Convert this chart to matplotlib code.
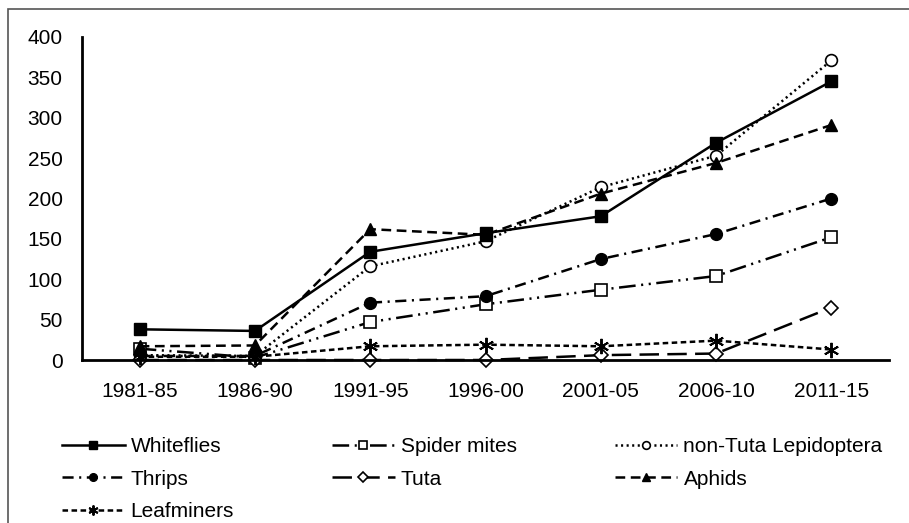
import matplotlib
matplotlib.use("Agg")
import matplotlib.pyplot as plt
from matplotlib.patches import Rectangle

plt.rcParams['font.family'] = ['Liberation Sans', 'DejaVu Sans']
plt.rcParams['lines.scale_dashes'] = False

periods = ["1981-85", "1986-90", "1991-95", "1996-00", "2001-05", "2006-10", "2011-15"]
whiteflies = [38, 36, 134, 157, 178, 269, 345]
spider_mites = [14, 3, 47, 69, 87, 104, 152]
non_tuta_lep = [6, 5, 116, 147, 214, 253, 371]
thrips = [5, 5, 71, 79, 125, 156, 200]
tuta = [0, 0, 0, 0, 6, 8, 65]
aphids = [17, 18, 162, 155, 206, 244, 291]
leafminers = [4, 4, 17, 19, 17, 24, 13]

yticks = [0, 50, 100, 150, 200, 250, 300, 350, 400]

fig = plt.figure(figsize=(9.09, 5.23), dpi=100)
ax = fig.add_axes([82/909, 1-360/523, (889-82)/909, 323/523])

x = list(range(len(periods)))
lw = 1.8
ms = 8.5
k = 'black'

series = [
    ("Whiteflies", whiteflies, dict(linestyle='-', marker='s', mfc=k, mec=k)),
    ("Spider mites", spider_mites, dict(linestyle=(0, (12, 4, 1.5, 4, 1.5, 4)), marker='s', mfc='white', mec=k, mew=1.2)),
    ("non-Tuta Lepidoptera", non_tuta_lep, dict(linestyle=(0, (1.5, 2.5)), marker='o', mfc='white', mec=k, mew=1.2)),
    ("Thrips", thrips, dict(linestyle=(0, (8, 4, 1.5, 4)), marker='o', mfc=k, mec=k)),
    ("Tuta", tuta, dict(linestyle=(0, (14, 6)), marker='D', mfc='white', mec=k, mew=1.2, ms=7.5)),
    ("Aphids", aphids, dict(linestyle=(0, (7, 4)), marker='^', mfc=k, mec=k)),
    ("Leafminers", leafminers, dict(linestyle=(0, (4, 2.5)), marker=(6, 2, 0), mec=k, mew=1.4, ms=11)),
]

handles = {}
for name, vals, st in series:
    kw = dict(color=k, lw=lw, ms=ms)
    kw.update(st)
    h, = ax.plot(x, vals, label=name, clip_on=False, **kw)
    handles[name] = h

ax.set_xlim(-0.5, len(periods) - 0.5)
ax.set_ylim(0, 400)
ax.set_yticks(yticks)
ax.set_xticks(x)
ax.set_xticklabels(periods)
ax.tick_params(axis='both', length=0, labelsize=15)
ax.tick_params(axis='y', pad=14)
ax.tick_params(axis='x', pad=16)
for s in ['top', 'right']:
    ax.spines[s].set_visible(False)
for s in ['left', 'bottom']:
    ax.spines[s].set_linewidth(2)
    ax.spines[s].set_color(k)

order = ["Whiteflies", "Thrips", "Leafminers", "Spider mites", "Tuta", "non-Tuta Lepidoptera", "Aphids"]
leg = fig.legend([handles[n] for n in order], order, ncol=3, loc='upper left',
                 bbox_to_anchor=(62/909, 1-437/523), frameon=False, fontsize=15,
                 handlelength=3.0, handletextpad=0.3, columnspacing=4.7,
                 labelspacing=0.65, markerscale=0.65, borderaxespad=0, borderpad=0)

fig.patches.append(Rectangle((8/909, -0.1), 1.2, 1 - 9/523 + 0.1, transform=fig.transFigure,
                             fill=False, edgecolor='#555555', lw=1.2))

fig.savefig("out.png", dpi=100)
